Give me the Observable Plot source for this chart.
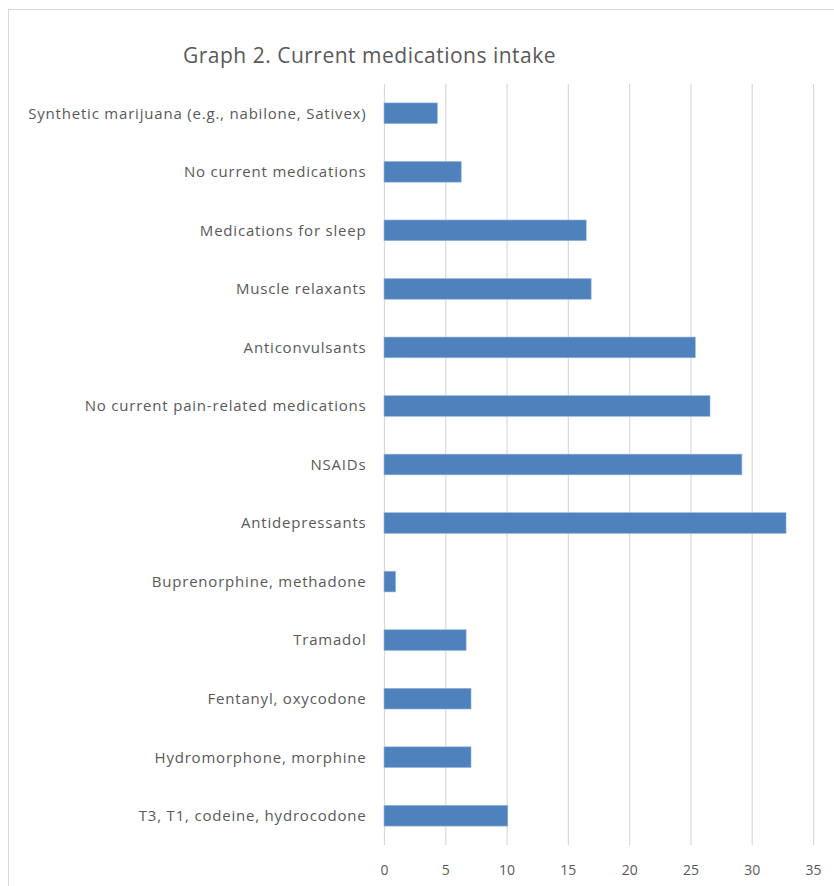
<!DOCTYPE html>
<html>
<head>
<meta charset="utf-8">
<script src="https://cdn.jsdelivr.net/npm/d3@7"></script>
<script src="https://cdn.jsdelivr.net/npm/@observablehq/plot@0.6"></script>
<style>
  html, body { margin: 0; padding: 0; background: #fff; }
  #wrap { position: relative; width: 834px; height: 886px; overflow: hidden; }
  #frame { position: absolute; left: 8px; top: 9px; width: 840px; height: 900px; border: 1px solid #d9d9d9; box-sizing: border-box; }
  #title { position: absolute; left: 183px; top: 41px; font-family: "Open Sans", sans-serif; font-size: 21px; letter-spacing: 0.5px; color: #595959; white-space: nowrap; }
  #chart { position: absolute; left: 0; top: 0; }
  #chart svg g[aria-label="y-axis tick label"] text { letter-spacing: 0.8px; }
</style>
</head>
<body>
<div id="wrap">
  <div id="frame"></div>
  <div id="chart"></div>
  <div id="title">Graph 2. Current medications intake</div>
</div>
<script>
const categories = [
  "Synthetic marijuana (e.g., nabilone, Sativex)",
  "No current medications",
  "Medications for sleep",
  "Muscle relaxants",
  "Anticonvulsants",
  "No current pain-related medications",
  "NSAIDs",
  "Antidepressants",
  "Buprenorphine, methadone",
  "Tramadol",
  "Fentanyl, oxycodone",
  "Hydromorphone, morphine",
  "T3, T1, codeine, hydrocodone"
];
const values = [4.35, 6.3, 16.5, 16.9, 25.4, 26.6, 29.2, 32.8, 0.95, 6.7, 7.1, 7.1, 10.1];
const xTicks = [0, 5, 10, 15, 20, 25, 30, 35];

const data = categories.map((c, i) => ({category: c, value: values[i]}));

const chart = Plot.plot({
  width: 834,
  height: 886,
  marginTop: 84,
  marginBottom: 41,
  marginLeft: 384,
  marginRight: 21,
  style: {fontFamily: "Open Sans, sans-serif", fontSize: "14px", color: "#595959", background: "transparent"},
  x: {domain: [0, 35], ticks: xTicks, label: null},
  y: {domain: categories, label: null, paddingInner: 0.646, paddingOuter: 0.323, round: false},
  marks: [
    Plot.gridX(xTicks, {stroke: "#d9d9d9", strokeOpacity: 1, strokeWidth: 1.2}),
    Plot.barX(data, {x: "value", y: "category", fill: "#4f81bd", stroke: "#9bb7dc", strokeWidth: 0.6}),
    Plot.axisX(xTicks, {tickSize: 0, tickPadding: 20, fontSize: 14, fill: "#595959"}),
    Plot.axisY({tickSize: 0, tickPadding: 18, fontSize: 15, fill: "#595959"})
  ]
});
document.getElementById("chart").appendChild(chart);
</script>
</body>
</html>
